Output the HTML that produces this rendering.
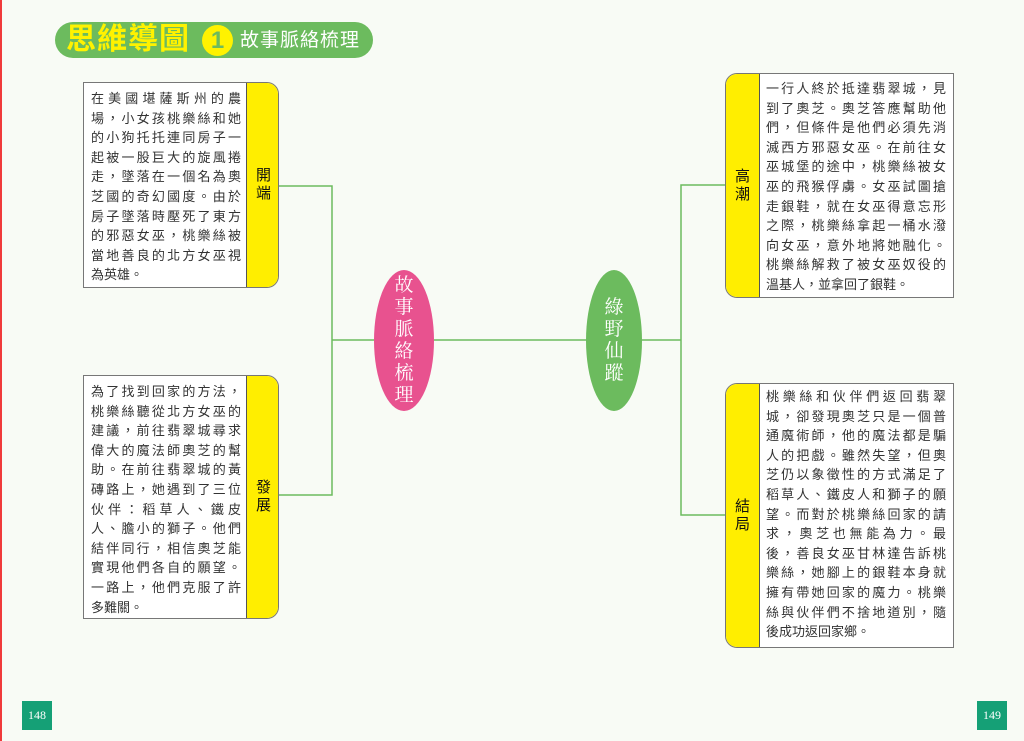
<!DOCTYPE html>
<html><head><meta charset="utf-8"><style>
body{margin:0;width:1024px;height:741px;background:#f8fbf5;position:relative;overflow:hidden;font-family:"Liberation Sans","Noto Sans CJK TC",sans-serif}
.abs{position:absolute}
.box{position:absolute;background:#fff;border:1.5px solid #777;border-radius:12px;overflow:hidden;box-sizing:border-box}
.txt{position:absolute;top:6px;font-size:13px;line-height:19.6px;color:#333}
.txt div{text-align:justify;text-align-last:justify}
.txt div.l{text-align-last:left}
.tab{position:absolute;top:0;bottom:0;background:#ffee00;display:flex;align-items:center;justify-content:center;font-size:15px;color:#111;line-height:18px;text-align:center}
.oval{position:absolute;border-radius:50%;color:#fff;font-size:19px;line-height:22px;display:flex;align-items:center;justify-content:center;text-align:center;font-family:"Liberation Serif","Noto Serif CJK SC",serif}
.pn{position:absolute;top:701px;width:30px;height:29px;background:#15a076;color:#fff;font-size:12px;font-family:"Liberation Serif",serif;display:flex;align-items:center;justify-content:center}
</style></head><body>
<div class="abs" style="left:0;top:0;width:2px;height:741px;background:#f03a3a"></div>
<div class="abs" style="left:55px;top:22px;width:318px;height:36px;background:#6cbb5e;border-radius:18px"></div>
<div class="abs" style="left:66px;top:22px;font-size:30px;font-weight:bold;color:#fff200;line-height:36px;letter-spacing:1px">思維導圖</div>
<div class="abs" style="left:202px;top:25px;width:31px;height:31px;border-radius:50%;background:#fff200;color:#6cbb5e;font-size:24px;font-weight:bold;text-align:center;line-height:31px">1</div>
<div class="abs" style="left:240px;top:27px;font-size:19px;color:#fff;line-height:28px;letter-spacing:1px">故事脈絡梳理</div>

<svg class="abs" style="left:0;top:0" width="1024" height="741">
<g stroke="#6cbb5e" stroke-width="1.5" fill="none">
<path d="M278 186H332V495H278M332 340H374M434 340H586M642 340H681M726 185H681V515H726"/>
</g></svg>

<div class="box" style="left:83px;top:82px;width:196px;height:206px;border-radius:0 12px 12px 0">
<div class="txt" style="left:7px;width:150px"><div>在美國堪薩斯州的農</div><div>場，小女孩桃樂絲和她</div><div>的小狗托托連同房子一</div><div>起被一股巨大的旋風捲</div><div>走，墜落在一個名為奧</div><div>芝國的奇幻國度。由於</div><div>房子墜落時壓死了東方</div><div>的邪惡女巫，桃樂絲被</div><div>當地善良的北方女巫視</div><div class="l">為英雄。</div></div>
<div class="tab" style="left:162px;width:33px;border-left:1.5px solid #555">開<br>端</div></div>

<div class="box" style="left:83px;top:375px;width:196px;height:244px;border-radius:0 12px 12px 0">
<div class="txt" style="left:7px;width:150px"><div>為了找到回家的方法，</div><div>桃樂絲聽從北方女巫的</div><div>建議，前往翡翠城尋求</div><div>偉大的魔法師奧芝的幫</div><div>助。在前往翡翠城的黃</div><div>磚路上，她遇到了三位</div><div>伙伴：稻草人、鐵皮</div><div>人、膽小的獅子。他們</div><div>結伴同行，相信奧芝能</div><div>實現他們各自的願望。</div><div>一路上，他們克服了許</div><div class="l">多難關。</div></div>
<div class="tab" style="left:162px;width:33px;border-left:1.5px solid #555">發<br>展</div></div>

<div class="box" style="left:725px;top:73px;width:229px;height:225px;border-radius:12px 0 0 12px">
<div class="tab" style="left:0;width:33px;border-right:1.5px solid #555">高<br>潮</div>
<div class="txt" style="left:40px;width:180px;top:5px"><div>一行人終於抵達翡翠城，見</div><div>到了奧芝。奧芝答應幫助他</div><div>們，但條件是他們必須先消</div><div>滅西方邪惡女巫。在前往女</div><div>巫城堡的途中，桃樂絲被女</div><div>巫的飛猴俘虜。女巫試圖搶</div><div>走銀鞋，就在女巫得意忘形</div><div>之際，桃樂絲拿起一桶水潑</div><div>向女巫，意外地將她融化。</div><div>桃樂絲解救了被女巫奴役的</div><div class="l">溫基人，並拿回了銀鞋。</div></div></div>

<div class="box" style="left:725px;top:383px;width:229px;height:265px;border-radius:12px 0 0 12px">
<div class="tab" style="left:0;width:33px;border-right:1.5px solid #555">結<br>局</div>
<div class="txt" style="left:40px;width:180px;top:3px"><div>桃樂絲和伙伴們返回翡翠</div><div>城，卻發現奧芝只是一個普</div><div>通魔術師，他的魔法都是騙</div><div>人的把戲。雖然失望，但奧</div><div>芝仍以象徵性的方式滿足了</div><div>稻草人、鐵皮人和獅子的願</div><div>望。而對於桃樂絲回家的請</div><div>求，奧芝也無能為力。最</div><div>後，善良女巫甘林達告訴桃</div><div>樂絲，她腳上的銀鞋本身就</div><div>擁有帶她回家的魔力。桃樂</div><div>絲與伙伴們不捨地道別，隨</div><div class="l">後成功返回家鄉。</div></div></div>

<div class="oval" style="left:374px;top:270px;width:60px;height:141px;background:#e8528f">故<br>事<br>脈<br>絡<br>梳<br>理</div>
<div class="oval" style="left:586px;top:270px;width:56px;height:141px;background:#6cbb5e">綠<br>野<br>仙<br>蹤</div>

<div class="pn" style="left:22px">148</div>
<div class="pn" style="left:977px">149</div>
</body></html>
